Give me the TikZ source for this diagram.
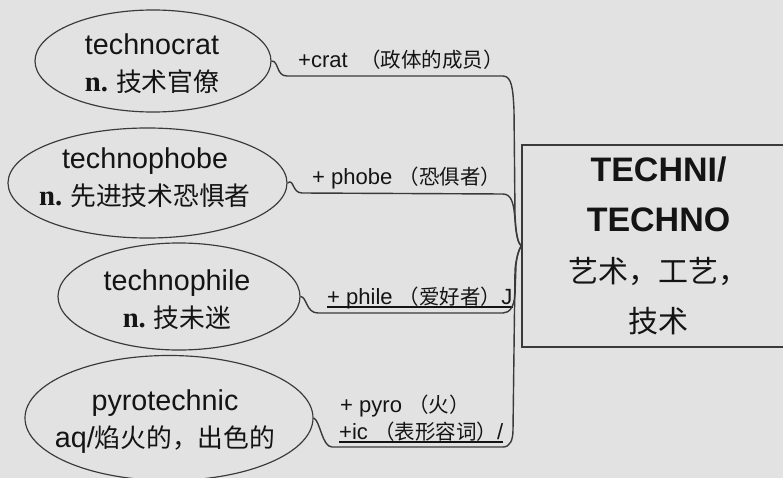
\documentclass[tikz,border=0pt]{standalone}
\usepackage{fontspec}
\setmainfont{Liberation Sans}
\newfontfamily\cjk{Noto Sans CJK SC}
\newfontfamily\serifn{Liberation Serif}
\usetikzlibrary{shapes.geometric}
\definecolor{paper}{HTML}{E2E2E2}
\definecolor{ink}{HTML}{141414}
\definecolor{wire}{HTML}{3A3A3A}
\newcommand{\zh}[1]{{\cjk\fontsize{22}{31.5}\selectfont #1}}
\newcommand{\zhs}[1]{{\cjk\fontsize{17.5}{22}\selectfont #1}}
\newcommand{\zhb}[1]{{\cjk\fontsize{25.6}{43}\selectfont #1}}
\newcommand{\nn}{{\serifn\bfseries n.}}
\tikzset{
  bubble/.style={ellipse,draw=wire,line width=1pt,inner sep=0pt},
  word/.style={font=\fontsize{24.5}{31.5}\selectfont,text=ink,align=center},
  gloss/.style={font=\fontsize{18.8}{22}\selectfont,text=ink,anchor=base west,inner sep=0pt},
  rootbox/.style={draw=wire,line width=1.4pt,minimum width=8.19cm,minimum height=6.06cm,font=\fontsize{29}{43}\selectfont,text=ink,align=center},
  link/.style={draw=wire,line width=1.2pt},
  uline/.style={draw=ink,line width=1pt}
}
\begin{document}
\begin{tikzpicture}[x=0.03cm,y=-0.03cm]
\path[use as bounding box,fill=paper] (0,0) rectangle (783,478);
\clip (0,0) rectangle (783,478);

% root
\node[rootbox] (root) at (658.5,246) {\bfseries TECHNI/\\\bfseries TECHNO\\\zhb{艺术，工艺，}\\\zhb{技术}};

% words
\node[bubble,minimum width=7.08cm,minimum height=3.06cm] (crat) at (153,61) {};
\node[bubble,minimum width=8.37cm,minimum height=3.3cm] (phobe) at (147.5,183) {};
\node[bubble,minimum width=7.26cm,minimum height=3.21cm] (phile) at (179,296.5) {};
\node[bubble,minimum width=8.64cm,minimum height=3.75cm] (pyro) at (169,418) {};
\node[word] (crat-w) at (152,63.5) {technocrat\\\nn\ \zh{技术官僚}};
\node[word] (phobe-w) at (145,178) {technophobe\\\nn\ \zh{先进技术恐惧者}};
\node[word] (phile-w) at (177,299.5) {technophile\\\nn\ \zh{技未迷}};
\node[word] (pyro-w) at (165,422) {pyrotechnic\\aq/\zh{焰火的，出色的}};

% glosses
\node[gloss] (crat-g) at (298,68) {+crat~~\zhs{（政体的成员）}};
\node[gloss] (phobe-g) at (312,184) {+ phobe \zhs{（恐俱者）}};
\node[gloss] (phile-g) at (327,304) {+ phile \zhs{（爱好者）}J};
\node[gloss] (pyro-g) at (340,412) {+ pyro \zhs{（火）}};
\node[gloss] (ic-g) at (339,439) {+ic \zhs{（表形容词）}/};
\draw[uline] ([yshift=-0.09cm]phile-g.base west) -- ([yshift=-0.09cm]phile-g.base east);
\draw[uline] ([yshift=-0.09cm]ic-g.base west) -- ([yshift=-0.09cm]ic-g.base east);

% links
\draw[link] (crat.east) .. controls (279,61) and (276,76) .. (287,76) -- (503,76) .. controls (512,76) and (513,90) .. (514,110) -- (515,215) .. controls (516,235) and (518,243) .. (root.west);
\draw[link] (phobe.east) .. controls (294,178) and (292,193) .. (302,193) -- (503,194) .. controls (512,194) and (514,205) .. (515,220) .. controls (516,235) and (518,243) .. (root.west);
\draw[link] (phile.east) .. controls (307,297) and (306,313) .. (318,313) -- (503,313) .. controls (510,313) and (514,306) .. (515,295) -- (516,265) .. controls (517,255) and (519,249) .. (root.west);
\draw[link] (pyro.east) .. controls (320,420) and (322,447) .. (332,447) -- (503,447) .. controls (510,447) and (513,440) .. (513,430) -- (515,270) .. controls (516,258) and (519,250) .. (root.west);
\end{tikzpicture}
\end{document}
